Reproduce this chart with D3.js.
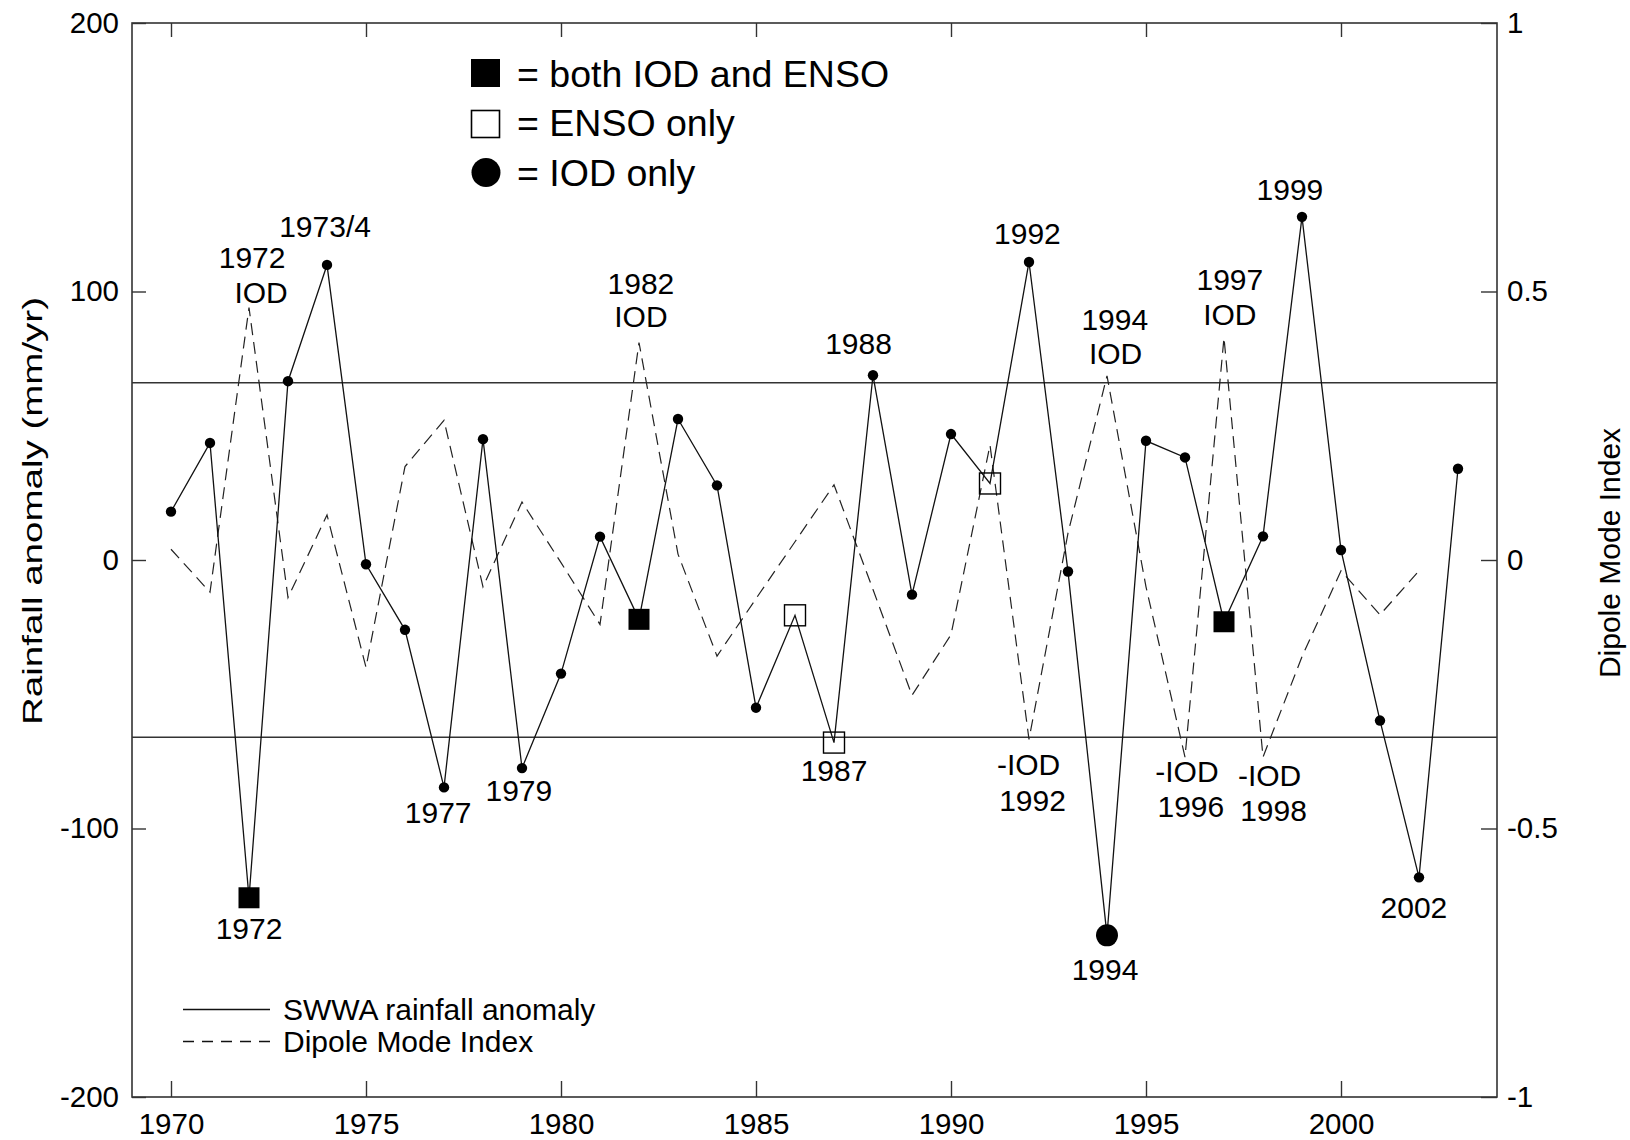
<!DOCTYPE html>
<html>
<head>
<meta charset="utf-8">
<script src="https://cdn.jsdelivr.net/npm/d3@7"></script>
<style>
  body { margin: 0; background: #fff; }
  text { font-family: "Liberation Sans", Arial, sans-serif; fill: #000; }
</style>
</head>
<body>
<script>
// Years and the two series
var years = [1970, 1971, 1972, 1973, 1974, 1975, 1976, 1977, 1978, 1979,
  1980, 1981, 1982, 1983, 1984, 1985, 1986, 1987, 1988, 1989,
  1990, 1991, 1992, 1993, 1994, 1995, 1996, 1997, 1998, 1999,
  2000, 2001, 2002, 2003];
var rainfall = [18, 43.6, -125.8, 66.6, 109.9, -1.6, -26, -84.7, 45, -77.5,
  -42.3, 8.7, -22.1, 52.5, 27.8, -55, -20.6, -68, 68.8, -12.9,
  46.9, 28.5, 111, -4.3, -139.8, 44.4, 38.2, -23, 8.8, 127.8,
  3.7, -59.8, -118.2, 34];

var dmiYears = years.slice(0, 33);
var dmi = [0.02, -0.06, 0.47, -0.07, 0.084, -0.2, 0.174, 0.26, -0.05, 0.108,
  -0.005, -0.12, 0.405, 0.011, -0.179, -0.072, 0.034, 0.14, -0.055, -0.252,
  -0.139, 0.214, -0.334, 0.05, 0.343, -0.05, -0.367, 0.414, -0.367, -0.18,
  -0.02, -0.102, -0.02];

// Event classes
var bothYears = [1972, 1982, 1997];
var ensoYears = [1986, 1987, 1991];
var iodYears = [1994];

// +/- threshold lines (mm/yr)
var thresholds = [66, -66];

// Tick values
var leftTicks = [-200, -100, 0, 100, 200];
var rightTicks = [-1, -0.5, 0, 0.5, 1];
var xTicks = [1970, 1975, 1980, 1985, 1990, 1995, 2000];

// Annotations: text, year, rainfall-axis value of the baseline
var annotations = [
  ["1973/4", 1973.95, 120.3],
  ["1972", 1972.08, 108.8],
  ["IOD", 1972.31, 95.7],
  ["1972", 1972.0, -141.2],
  ["1977", 1976.85, -98],
  ["1979", 1978.92, -89.8],
  ["1982", 1982.05, 99.2],
  ["IOD", 1982.05, 86.6],
  ["1988", 1987.63, 76.7],
  ["1987", 1987.0, -82.3],
  ["1992", 1991.96, 117.8],
  ["-IOD", 1991.99, -80],
  ["1992", 1992.09, -93.4],
  ["1994", 1994.2, 85.7],
  ["IOD", 1994.22, 73],
  ["1994", 1993.95, -156.4],
  ["-IOD", 1996.05, -82.6],
  ["1996", 1996.15, -95.6],
  ["-IOD", 1998.17, -84.1],
  ["1998", 1998.27, -97.2],
  ["1997", 1997.15, 100.6],
  ["IOD", 1997.15, 87.5],
  ["1999", 1998.69, 134.2],
  ["2002", 2001.87, -133.2]
];

// SVG area and plot box
var svgWidth = 1630;
var svgHeight = 1140;
var box = { left: 132, right: 1497, top: 23, bottom: 1097 };

var svg = d3.select("body")
  .append("svg")
  .attr("width", svgWidth)
  .attr("height", svgHeight)
  .style("display", "block");

svg.append("rect")
  .attr("width", svgWidth)
  .attr("height", svgHeight)
  .attr("fill", "#fff");

var xScale = d3.scaleLinear().domain([1969, 2004]).range([box.left, box.right]);
var yScale = d3.scaleLinear().domain([-200, 200]).range([box.bottom, box.top]);
var y2Scale = d3.scaleLinear().domain([-1, 1]).range([box.bottom, box.top]);

// Axes (ticks point inward)
var fmt = function(d) { return String(d); };

var leftAxis = svg.append("g")
  .attr("transform", `translate(${box.left},0)`)
  .call(d3.axisLeft(yScale).tickValues(leftTicks).tickFormat(fmt)
    .tickSize(-14).tickSizeOuter(0).tickPadding(13));

var rightAxis = svg.append("g")
  .attr("transform", `translate(${box.right},0)`)
  .call(d3.axisRight(y2Scale).tickValues(rightTicks).tickFormat(fmt)
    .tickSize(-16).tickSizeOuter(0).tickPadding(10));

var bottomAxis = svg.append("g")
  .attr("transform", `translate(0,${box.bottom})`)
  .call(d3.axisBottom(xScale).tickValues(xTicks).tickFormat(fmt)
    .tickSize(-16).tickSizeOuter(0).tickPadding(16));

var topAxis = svg.append("g")
  .attr("transform", `translate(0,${box.top})`)
  .call(d3.axisTop(xScale).tickValues(xTicks).tickFormat("")
    .tickSize(-14).tickSizeOuter(0));

[leftAxis, rightAxis, bottomAxis, topAxis].forEach(function(g) {
  g.select(".domain").remove();
  g.selectAll("line").attr("stroke", "#333").attr("stroke-width", 1.4);
  g.selectAll("text")
    .attr("font-family", "'Liberation Sans', Arial, sans-serif")
    .attr("font-size", 29.5)
    .attr("fill", "#000");
});

// Frame
svg.append("rect")
  .attr("x", box.left)
  .attr("y", box.top)
  .attr("width", box.right - box.left)
  .attr("height", box.bottom - box.top)
  .attr("fill", "none")
  .attr("stroke", "#333")
  .attr("stroke-width", 1.6);

// Threshold lines
svg.selectAll(".thresh")
  .data(thresholds)
  .enter()
  .append("line")
  .attr("x1", box.left)
  .attr("x2", box.right)
  .attr("y1", d => yScale(d))
  .attr("y2", d => yScale(d))
  .attr("stroke", "#333")
  .attr("stroke-width", 1.6);

// Dipole Mode Index (dashed, right axis)
var dmiLine = d3.line()
  .x((d, i) => xScale(dmiYears[i]))
  .y(d => y2Scale(d));

svg.append("path")
  .datum(dmi)
  .attr("d", dmiLine)
  .attr("fill", "none")
  .attr("stroke", "#222")
  .attr("stroke-width", 1.2)
  .attr("stroke-dasharray", "12,7");

// Rainfall anomaly (solid, left axis)
var rainLine = d3.line()
  .x((d, i) => xScale(years[i]))
  .y(d => yScale(d));

svg.append("path")
  .datum(rainfall)
  .attr("d", rainLine)
  .attr("fill", "none")
  .attr("stroke", "#111")
  .attr("stroke-width", 1.3);

// Markers
var points = years.map((yr, i) => ({ year: yr, value: rainfall[i] }));
var special = bothYears.concat(ensoYears, iodYears);

svg.selectAll(".dot")
  .data(points.filter(d => special.indexOf(d.year) < 0))
  .enter()
  .append("circle")
  .attr("cx", d => xScale(d.year))
  .attr("cy", d => yScale(d.value))
  .attr("r", 5.2)
  .attr("fill", "#000");

var sq = 21;
svg.selectAll(".both")
  .data(points.filter(d => bothYears.indexOf(d.year) >= 0))
  .enter()
  .append("rect")
  .attr("x", d => xScale(d.year) - sq / 2)
  .attr("y", d => yScale(d.value) - sq / 2)
  .attr("width", sq)
  .attr("height", sq)
  .attr("fill", "#000");

svg.selectAll(".enso")
  .data(points.filter(d => ensoYears.indexOf(d.year) >= 0))
  .enter()
  .append("rect")
  .attr("x", d => xScale(d.year) - sq / 2)
  .attr("y", d => yScale(d.value) - sq / 2)
  .attr("width", sq)
  .attr("height", sq)
  .attr("fill", "none")
  .attr("stroke", "#000")
  .attr("stroke-width", 1.4);

svg.selectAll(".iod")
  .data(points.filter(d => iodYears.indexOf(d.year) >= 0))
  .enter()
  .append("circle")
  .attr("cx", d => xScale(d.year))
  .attr("cy", d => yScale(d.value))
  .attr("r", 11)
  .attr("fill", "#000");

// Year annotations
svg.selectAll(".ann")
  .data(annotations)
  .enter()
  .append("text")
  .attr("x", d => xScale(d[1]))
  .attr("y", d => yScale(d[2]))
  .attr("text-anchor", "middle")
  .attr("font-size", 30)
  .text(d => d[0]);

// Symbol legend (top)
var legTop = svg.append("g");
legTop.append("rect")
  .attr("x", 471).attr("y", 59).attr("width", 29).attr("height", 28)
  .attr("fill", "#000");
legTop.append("rect")
  .attr("x", 471.5).attr("y", 110.5).attr("width", 28).attr("height", 27)
  .attr("fill", "none").attr("stroke", "#000").attr("stroke-width", 1.6);
legTop.append("circle")
  .attr("cx", 486).attr("cy", 172.5).attr("r", 14.5)
  .attr("fill", "#000");
legTop.selectAll("text")
  .data(["= both IOD and ENSO", "= ENSO only", "= IOD only"])
  .enter()
  .append("text")
  .attr("x", 517)
  .attr("y", (d, i) => 86.5 + i * 49.8)
  .attr("font-size", 37.5)
  .text(d => d);

// Line legend (bottom left)
var legBot = svg.append("g");
legBot.append("line")
  .attr("x1", 183).attr("x2", 270).attr("y1", 1009.5).attr("y2", 1009.5)
  .attr("stroke", "#111").attr("stroke-width", 1.3);
legBot.append("line")
  .attr("x1", 183).attr("x2", 270).attr("y1", 1041.5).attr("y2", 1041.5)
  .attr("stroke", "#111").attr("stroke-width", 1.3)
  .attr("stroke-dasharray", "11,8");
legBot.selectAll("text")
  .data(["SWWA rainfall anomaly", "Dipole Mode Index"])
  .enter()
  .append("text")
  .attr("x", 283)
  .attr("y", (d, i) => 1020 + i * 32)
  .attr("font-size", 30)
  .text(d => d);

// Axis titles
svg.append("text")
  .attr("transform", "translate(42,511) rotate(-90)")
  .attr("text-anchor", "middle")
  .attr("font-size", 28)
  .attr("textLength", 428)
  .attr("lengthAdjust", "spacingAndGlyphs")
  .text("Rainfall anomaly (mm/yr)");

svg.append("text")
  .attr("transform", "translate(1620,553) rotate(-90)")
  .attr("text-anchor", "middle")
  .attr("font-size", 30)
  .text("Dipole Mode Index");
</script>
</body>
</html>
